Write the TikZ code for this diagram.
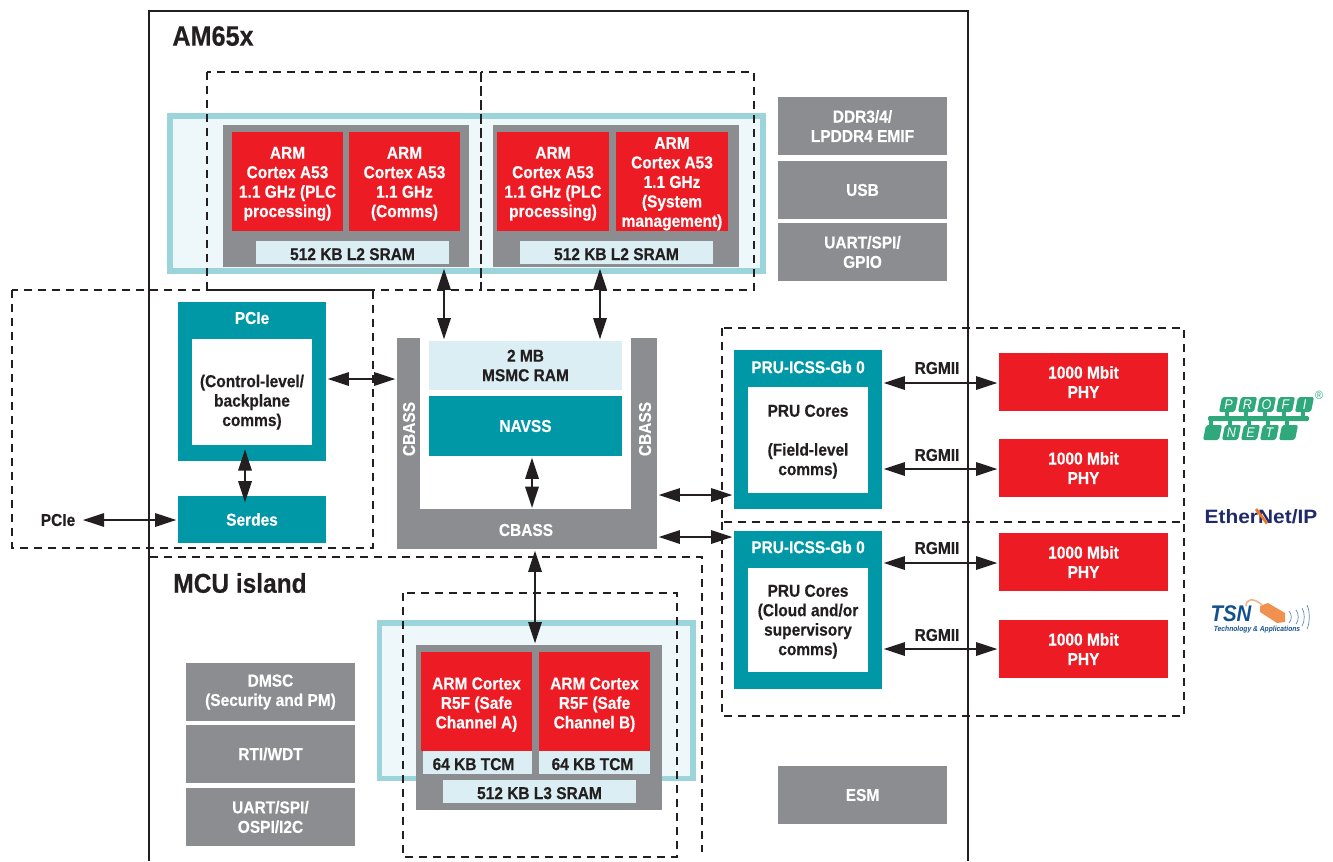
\documentclass[tikz,border=0pt]{standalone}
\usepackage{fontspec}
\setmainfont[FakeStretch=0.9,BoldFeatures={FakeBold=0.35}]{Liberation Sans}
\newfontfamily\etherfont[FakeStretch=1.08]{Liberation Sans}
\usetikzlibrary{arrows.meta}
\usetikzlibrary{calc}

\definecolor{tiRed}{HTML}{ED1C24}
\definecolor{tiGray}{HTML}{8C8D90}
\definecolor{tiTeal}{HTML}{0098A6}
\definecolor{tiPale}{HTML}{DAEEF3}
\definecolor{tiRing}{HTML}{9BD5DB}
\definecolor{tiTint}{HTML}{EEF8FB}
\definecolor{tiInk}{HTML}{231F20}
\definecolor{tiGreen}{HTML}{2FA97C}
\definecolor{tiNavy}{HTML}{1F2A6B}
\definecolor{tiOrange}{HTML}{EE7623}
\definecolor{tsnBlue}{HTML}{14508C}

\newcommand{\dn}[1]{\rule{0pt}{#1pt}}

\tikzset{
    wh/.style 2 args={minimum width=#1*0.75pt, minimum height=#2*0.75pt},
    blk/.style={inner sep=0pt, align=center, font=\fontsize{12.9}{14.6}\selectfont\bfseries},
    redblk/.style={blk, fill=tiRed, text=white},
    grayblk/.style={blk, fill=tiGray, text=white},
    tealblk/.style={blk, fill=tiTeal, text=white},
    paleblk/.style={blk, fill=tiPale, text=tiInk},
    whiteblk/.style={blk, fill=white, text=tiInk},
    ring/.style={draw=tiRing, fill=tiTint, line width=4pt},
    zone/.style={draw=tiInk, line width=1.9pt, dash pattern=on 6pt off 4.5pt},
    link/.style={{Triangle[length=16pt,width=10pt]}-{Triangle[length=16pt,width=10pt]}, draw=tiInk, line width=1.6pt, shorten <=1pt, shorten >=1pt},
    lbl/.style={inner sep=0pt, text=tiInk, font=\fontsize{12.9}{14.6}\selectfont\bfseries},
    bigl/.style={inner sep=0pt, text=tiInk, font=\fontsize{21}{24}\selectfont\bfseries},
}

\begin{document}
\begin{tikzpicture}[x=0.75pt, y=-0.75pt]
    \useasboundingbox (0,0) rectangle (1333,861);
    \draw[tiInk, line width=1pt] (149,861) -- (149,11) -- (968,11) -- (968,861);
    \node[bigl] (am) at (213,36) {AM65x};
    \node[bigl, font=\fontsize{20.4}{24}\selectfont\bfseries] (mcu) at (240,583) {MCU island};

    % A53 cluster
    \draw[ring] (170,116) rectangle (763,271);
    \node[grayblk, wh={246}{142}] (a53a) at (346,196) {};
    \node[grayblk, wh={246}{142}] (a53b) at (616,196) {};
    \node[redblk, wh={111}{99}] (core1) at (287.5,181.5) {\dn{12.3}ARM\\Cortex A53\\1.1 GHz (PLC\\processing)};
    \node[redblk, wh={111}{99}] (core2) at (404.5,181.5) {\dn{12.3}ARM\\Cortex A53\\1.1 GHz\\(Comms)};
    \node[redblk, wh={112}{99}] (core3) at (553,181.5) {\dn{12.3}ARM\\Cortex A53\\1.1 GHz (PLC\\processing)};
    \node[redblk, wh={112}{99}] (core4) at (672,181.5) {\dn{12.3}ARM\\Cortex A53\\1.1 GHz\\(System\\management)};
    \node[paleblk, wh={193}{23}] (l2a) at (352.5,252.5) {\dn{11.5}512 KB L2 SRAM};
    \node[paleblk, wh={193}{23}] (l2b) at (616.5,252.5) {\dn{11.5}512 KB L2 SRAM};

    % peripherals
    \node[grayblk, wh={169}{58}] (ddr) at (862.5,126) {DDR3/4/\\LPDDR4 EMIF};
    \node[grayblk, wh={169}{58}] (usb) at (862.5,190) {USB};
    \node[grayblk, wh={169}{58}] (uart) at (862.5,252) {UART/SPI/\\GPIO};
    \node[grayblk, wh={169}{58}] (esm) at (862.5,795) {ESM};
    \node[grayblk, wh={169}{58}] (dmsc) at (270.5,692) {DMSC\\(Security and PM)};
    \node[grayblk, wh={169}{58}] (rti) at (270.5,754) {RTI/WDT};
    \node[grayblk, wh={169}{58}] (mcuart) at (270.5,817) {UART/SPI/\\OSPI/I2C};

    % PCIe
    \node[tealblk, wh={148}{159}] (pcie) at (252,381.5) {};
    \node[whiteblk, wh={120}{106}] (pciein) at (252,392) {\dn{24.5}(Control-level/\\backplane\\comms)};
    \node[blk, text=white] (pcietl) at (252,318) {PCIe};
    \node[tealblk, wh={148}{47}] (serdes) at (252,519.5) {Serdes};
    \node[lbl] (pcieout) at (58,520) {PCIe};

    % interconnect
    \node[grayblk, wh={260}{211}] (cbass) at (527,443.5) {};
    \node[whiteblk, wh={211}{171}] (cbassin) at (525.5,423.5) {};
    \node[paleblk, wh={193}{49}] (msmc) at (525.5,365.5) {2 MB\\MSMC RAM};
    \node[tealblk, wh={193}{60}] (navss) at (525.5,426) {NAVSS};
    \node[blk, text=white, rotate=90] (cbassl) at (409,429) {CBASS};
    \node[blk, text=white, rotate=90] (cbassr) at (645,429) {CBASS};
    \node[blk, text=white] (cbassb) at (526,530) {CBASS};

    % PRU and PHY
    \node[tealblk, wh={148}{159}] (pru0) at (808,429.5) {};
    \node[whiteblk, wh={120}{106}] (pru0in) at (808,440) {\dn{11.5}PRU Cores\\[14.6pt](Field-level\\comms)};
    \node[blk, text=white] (pru0tl) at (808,367) {PRU-ICSS-Gb 0};
    \node[tealblk, wh={148}{158}] (pru1) at (808,610) {};
    \node[whiteblk, wh={120}{104}] (pru1in) at (808,620) {\dn{11.5}PRU Cores\\(Cloud and/or\\supervisory\\comms)};
    \node[blk, text=white] (pru1tl) at (808,547) {PRU-ICSS-Gb 0};
    \node[redblk, wh={169}{58}] (phy1) at (1083.5,382) {1000 Mbit\\PHY};
    \node[redblk, wh={169}{58}] (phy2) at (1083.5,468) {1000 Mbit\\PHY};
    \node[redblk, wh={169}{58}] (phy3) at (1083.5,562) {1000 Mbit\\PHY};
    \node[redblk, wh={169}{58}] (phy4) at (1083.5,649) {1000 Mbit\\PHY};
    \node[lbl] (rg1) at (937,368) {RGMII};
    \node[lbl] (rg2) at (937,455) {RGMII};
    \node[lbl] (rg3) at (937,548) {RGMII};
    \node[lbl] (rg4) at (937,635) {RGMII};

    % R5F cluster
    \draw[ring] (379.5,623) rectangle (693,778.5);
    \node[grayblk, wh={246}{165}] (r5f) at (539,727.5) {};
    \node[redblk, wh={111}{99}] (r5a) at (476.5,701) {\dn{14.5}ARM Cortex\\R5F (Safe\\Channel A)};
    \node[redblk, wh={111}{99}] (r5b) at (594.5,701) {\dn{14.5}ARM Cortex\\R5F (Safe\\Channel B)};
    \node[paleblk, wh={109}{23}] (tcma) at (477.5,762.5) {\dn{11.5}64 KB TCM\hspace{6pt}};
    \node[paleblk, wh={111}{23}] (tcmb) at (594.5,762.5) {\dn{11.5}64 KB TCM\hspace{3pt}};
    \node[paleblk, wh={193}{23}] (l3) at (539.5,791.5) {\dn{11.5}512 KB L3 SRAM};

    % dashed zones
    \draw[zone] (207,72) rectangle (481,290);
    \draw[zone] (481,72) rectangle (754,290);
    \draw[zone] (12,290) rectangle (373,548);
    \draw[zone] (722,328) rectangle (1184,522);
    \draw[zone] (722,522) rectangle (1184,716);
    \draw[zone] (150,557) -- (702,557) -- (702,852);
    \draw[zone] (403,593) rectangle (677,857);

    % connectors
    \draw[link] (a53a.south -| 444,0) -- (msmc.north -| 444,0);
    \draw[link] (a53b.south -| 600,0) -- (msmc.north -| 600,0);
    \draw[link] (pcie.east |- 0,379) -- (cbass.west |- 0,379);
    \draw[link, shorten <=3pt, shorten >=-5pt] (pciein.south -| 245,0) -- (serdes.north -| 245,0);
    \draw[link] (pcieout.east |- 0,520) ++(6,0) -- (serdes.west |- 0,520);
    \draw[link] (navss.south -| 532,0) -- (cbassin.south -| 532,0);
    \draw[link] (cbass.east |- 0,495) -- (pru0.west |- 0,495);
    \draw[link] (cbass.east |- 0,537) -- (pru1.west |- 0,537);
    \draw[link] (cbass.south -| 535,0) -- (r5f.north -| 535,0);
    \draw[link] (pru0.east |- 0,383) -- (phy1.west |- 0,383);
    \draw[link] (pru0.east |- 0,469) -- (phy2.west |- 0,469);
    \draw[link] (pru1.east |- 0,563) -- (phy3.west |- 0,563);
    \draw[link] (pru1.east |- 0,649) -- (phy4.west |- 0,649);

    % PROFINET logo
    \fill[tiGreen, rounded corners=1pt] (1208,416) rectangle (1309,421);
    \foreach \ltr [count=\i from 0] in {P,R,O,F,I} {
        \fill[tiGreen, rounded corners=1.5pt] ({1219+\i*19},412) -- ({1222+\i*19},397) -- ({1238+\i*19},397) -- ({1235+\i*19},412) -- cycle;
        \fill[tiGreen] ({1225+\i*19},410) rectangle ({1229+\i*19},418);
        \node[inner sep=0pt, text=white, font=\fontsize{10.5}{10.5}\selectfont\itshape] (pn\i) at ({1228.5+\i*19},404.5) {\ltr};
    }
    \foreach \ltr [count=\i from 0] in {{},N,E,T,{}} {
        \fill[tiGreen, rounded corners=1.5pt] ({1203+\i*19},440) -- ({1206+\i*19},425) -- ({1222+\i*19},425) -- ({1219+\i*19},440) -- cycle;
        \fill[tiGreen] ({1209+\i*19},419) rectangle ({1213+\i*19},427);
        \node[inner sep=0pt, text=white, font=\fontsize{10.5}{10.5}\selectfont\itshape] (pm\i) at ({1212.5+\i*19},432.5) {\ltr};
    }
    \node[inner sep=0pt, text=tiGreen, font=\fontsize{9}{9}\selectfont] (pnreg) at (1319,395) {®};

    % EtherNet/IP logo
    \node[inner sep=0pt, text=tiNavy, font=\fontsize{14.5}{15}\selectfont\etherfont\bfseries] (enip) at (1261,516.5) {EtherNet/IP};
    \draw[tiOrange, line width=2pt] (1256,509) -- (1267,523.5);

    % TSN logo
    \fill[tiOrange!80!white] (1260,606) -- (1268,603) -- (1285,613) -- (1285,622) -- (1277,623) -- (1260,612) -- cycle;
    \draw[tiOrange!55!white, line width=1.2pt] (1246,606) .. controls (1246,599) and (1253,597) .. (1262,605);
    \foreach \rad/\hgt in {1289/12,1296/14,1302/18,1307/24} {
        \draw[tsnBlue!70!white, line width=0.5pt] (\rad,{617-\hgt/2}) .. controls ({\rad+3},{617-\hgt/4}) and ({\rad+3},{617+\hgt/4}) .. (\rad,{617+\hgt/2});
    }
    \node[inner sep=0pt, text=tsnBlue, font=\fontsize{17}{17}\selectfont\itshape\bfseries] (tsn) at (1231,613.5) {TSN};
    \node[inner sep=0pt, text=tsnBlue, font=\fontsize{5.6}{6}\selectfont\itshape\bfseries] (tsnsub) at (1257,629.5) {Technology \& Applications};
\end{tikzpicture}
\end{document}
